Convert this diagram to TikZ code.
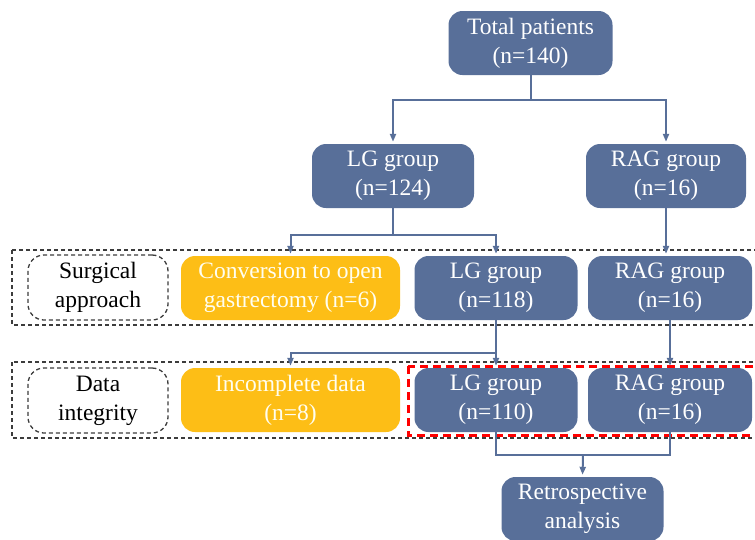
\documentclass[tikz,border=0pt]{standalone}
\usepackage{fontspec}
\setmainfont{Liberation Serif}
\usetikzlibrary{arrows.meta, positioning, calc}
\definecolor{boxblue}{RGB}{88,111,153}
\definecolor{boxgold}{RGB}{253,190,22}
\definecolor{framegray}{RGB}{60,60,60}

\tikzset{
    group/.style={rectangle, rounded corners=14pt, fill=boxblue, text=white,
        align=center, inner sep=0pt, minimum height=64pt,
        font=\fontsize{23.5}{29}\selectfont},
    excluded/.style={group, fill=boxgold, text=white!94!yellow},
    stagelabel/.style={rectangle, rounded corners=16pt, draw=framegray, dashed,
        line width=1.3pt, dash pattern=on 4pt off 3pt, align=center,
        inner sep=0pt, minimum width=140pt, minimum height=65pt,
        font=\fontsize{23.5}{29}\selectfont},
    stageframe/.style={draw=framegray, line width=1.3pt, dash pattern=on 4pt off 3pt},
    link/.style={draw=boxblue, line width=2pt},
    arrow/.style={link, -{Triangle[length=8pt,width=6pt]}, shorten >=2pt},
}

\begin{document}
\begin{tikzpicture}[x=1pt, y=-1pt]
    \useasboundingbox (0,0) rectangle (755,539);

    % stage frames
    \draw[stageframe] (12,250) rectangle (765,325);
    \draw[stageframe] (12,362) rectangle (765,438);
    \draw[red, line width=3pt, dash pattern=on 8pt off 5pt] (408,366) rectangle (765,435);

    \node[group, minimum width=164pt] (total) at (530.5,43) {Total patients\\(n=140)};
    \node[group, minimum width=162pt] (lgA) at (393,176) {LG group\\(n=124)};
    \node[group, minimum width=160pt] (ragA) at (666,176) {RAG group\\(n=16)};

    \node[stagelabel] (surgical) at (98,287.5) {Surgical\\approach};
    \node[excluded, minimum width=219pt] (conversion) at (290.5,288) {Conversion to open\\gastrectomy (n=6)};
    \node[group, minimum width=163pt] (lgB) at (496,288) {LG group\\(n=118)};
    \node[group, minimum width=164pt] (ragB) at (670,288) {RAG group\\(n=16)};

    \node[stagelabel] (integrity) at (98,400.5) {Data\\integrity};
    \node[excluded, minimum width=219pt] (incomplete) at (290.5,400) {Incomplete data\\(n=8)};
    \node[group, minimum width=163pt] (lgC) at (496,400) {LG group\\(n=110)};
    \node[group, minimum width=164pt] (ragC) at (670,400) {RAG group\\(n=16)};

    \node[group, minimum width=162pt] (retro) at (582.5,509) {Retrospective\\analysis};

    % connectors
    \draw[link] (total.south) -- ++(0,25) coordinate (splitA);
    \draw[arrow] (splitA) -| (lgA.north);
    \draw[arrow] (splitA) -| (ragA.north);

    \draw[link] (lgA.south) -- ++(0,27) coordinate (splitB);
    \draw[arrow] (splitB) -| (conversion.north);
    \draw[arrow] (splitB) -| (lgB.north);
    \draw[arrow] (ragA.south) -- (ragA.south |- ragB.north);

    \draw[link] (lgB.south) -- ++(0,33) coordinate (splitC);
    \draw[arrow] (splitC) -| (incomplete.north);
    \draw[arrow] (splitC) -- (lgC.north);
    \draw[arrow] (ragB.south) -- (ragC.north);

    \draw[link] (lgC.south) -- ++(0,23) coordinate (joinL)
        -- (joinL -| ragC.south) -- (ragC.south);
    \draw[arrow] ($(joinL)!0.5!(joinL -| ragC.south)$) -- (retro.north);
\end{tikzpicture}
\end{document}
